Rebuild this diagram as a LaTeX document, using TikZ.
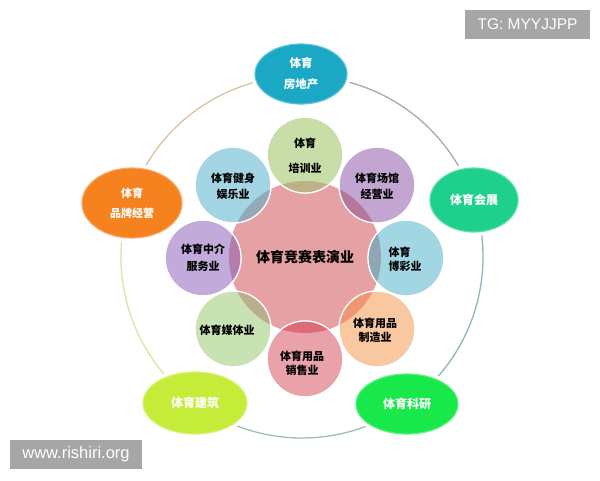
\documentclass[tikz,border=0pt]{standalone}
\usepackage{fontspec}
\setmainfont{Liberation Sans}
\newfontfamily\cjk{Noto Sans CJK SC}
\usetikzlibrary{shapes.geometric}
\definecolor{cPink}{HTML}{E6A1A4}
\definecolor{cGreenA}{HTML}{C9DDA9}
\definecolor{cPurpleA}{HTML}{C3A5D2}
\definecolor{cBlueA}{HTML}{A3D6E3}
\definecolor{cPeach}{HTML}{F9C7A0}
\definecolor{cPinkB}{HTML}{E9A2AA}
\definecolor{cGreenB}{HTML}{C9E2B3}
\definecolor{cPurpleB}{HTML}{C2ABDA}
\definecolor{cBlueB}{HTML}{A3D5E5}
\definecolor{lGreenA}{HTML}{C0B088}
\definecolor{lPurpleA}{HTML}{B5779B}
\definecolor{lBlueA}{HTML}{90A6B5}
\definecolor{lPeach}{HTML}{EE9676}
\definecolor{lPinkB}{HTML}{DE6B7C}
\definecolor{lGreenB}{HTML}{B9AE90}
\definecolor{lPurpleB}{HTML}{B67CAB}
\definecolor{lBlueB}{HTML}{92AABA}
\definecolor{oTeal}{HTML}{1AA8C4}
\definecolor{oOrange}{HTML}{F5821F}
\definecolor{oMint}{HTML}{1ED08C}
\definecolor{oLime}{HTML}{C6EC3A}
\definecolor{oGreen}{HTML}{18E84A}
\definecolor{arcA}{HTML}{D6C59E}
\definecolor{arcB}{HTML}{DCE3A4}
\definecolor{arcC}{HTML}{9FBFAE}
\definecolor{arcD}{HTML}{8EB5BB}
\definecolor{arcE}{HTML}{A2AAB0}
\definecolor{wmGray}{HTML}{A6A6A6}
\begin{document}
\begin{tikzpicture}[x=1pt,y=-1pt,
  ringarc/.style={line width=1.3pt},
  outerell/.style={ellipse, inner sep=0pt, text=white, align=center,
    font=\cjk\bfseries\fontsize{11.5}{21}\selectfont, line width=1.2pt},
  petal/.style={circle, minimum size=76pt, inner sep=0pt, draw=white, line width=1.2pt},
  ptxt/.style={align=center, inner sep=0pt, text=black, font=\cjk\bfseries\fontsize{11}{15.5}\selectfont},
  wm/.style={fill=wmGray, text=white, inner sep=0pt, font=\fontsize{15.5}{18}\selectfont}]
\useasboundingbox (0,0) rectangle (600,480);
\fill[white] (0,0) rectangle (600,480);
\coordinate (O) at (302,257);
% outer ring arcs
\draw[ringarc, arcA] (O) ++(-90:181) arc[start angle=-90, end angle=-162, radius=181];
\draw[ringarc, arcB] (O) ++(-162:181) arc[start angle=-162, end angle=-234, radius=181];
\draw[ringarc, arcC] (O) ++(-234:181) arc[start angle=-234, end angle=-306, radius=181];
\draw[ringarc, arcD] (O) ++(-306:181) arc[start angle=-306, end angle=-378, radius=181];
\draw[ringarc, arcE] (O) ++(-18:181) arc[start angle=-18, end angle=-90, radius=181];
% white gaps round the outer ellipses
\foreach \cx/\cy/\w/\h in {301/74/96/64, 132/203/104/74, 474/200/92/68, 195/403/108/66, 407/404/106/64}{
  \fill[white] (\cx,\cy) ellipse[x radius=\w/2+2, y radius=\h/2+2];
}
% outer ellipses
\node[outerell, fill=oTeal, draw=oTeal!70!white, minimum width=92pt, minimum height=60pt] (re) at (301,74) {体育\\房地产};
\node[outerell, fill=oOrange, draw=oOrange!70!white, minimum width=100pt, minimum height=70pt, font=\cjk\bfseries\fontsize{11}{20}\selectfont] (brand) at (132,203) {体育\\品牌经营};
\node[outerell, fill=oMint, draw=oMint!70!white, minimum width=88pt, minimum height=64pt, font=\cjk\bfseries\fontsize{12}{14}\selectfont] (expo) at (474,200) {体育会展};
\node[outerell, fill=oLime, draw=oLime!70!white, minimum width=104pt, minimum height=62pt, font=\cjk\bfseries\fontsize{12}{14}\selectfont] (arch) at (195,403) {体育建筑};
\node[outerell, fill=oGreen, draw=oGreen!70!white, minimum width=102pt, minimum height=60pt, font=\cjk\bfseries\fontsize{12}{14}\selectfont] (sci) at (407,404) {体育科研};
% central circle
\node[circle, fill=cPink, minimum size=152pt, inner sep=0pt] (ctr) at (305,257) {};
% petals
\node[petal, fill=cGreenA] (p1) at (305,155) {};
\node[petal, fill=cPurpleA] (p2) at (377,185) {};
\node[petal, fill=cBlueA] (p3) at (406,258) {};
\node[petal, fill=cPeach] (p4) at (377,329) {};
\node[petal, fill=cPinkB] (p5) at (305,359) {};
\node[petal, fill=cGreenB] (p6) at (233,329) {};
\node[petal, fill=cPurpleB] (p7) at (203,258) {};
\node[petal, fill=cBlueB] (p8) at (233,185) {};
% overlaps
\foreach \p/\c in {p1/lGreenA, p2/lPurpleA, p3/lBlueA, p4/lPeach, p5/lPinkB, p6/lGreenB, p7/lPurpleB, p8/lBlueB}{
  \begin{scope}
    \clip (\p.center) circle (38);
    \fill[\c] (ctr.center) circle (76);
  \end{scope}
  \draw[white, line width=1.2pt] (\p.center) circle (38);
}
% texts
\node[ptxt, font=\cjk\bfseries\fontsize{14}{16}\selectfont] (tc) at (ctr) {体育竞赛表演业};
\node[ptxt, font=\cjk\bfseries\fontsize{11}{25}\selectfont] (t1) at (305,156) {体育\\培训业};
\node[ptxt, font=\cjk\bfseries\fontsize{11}{16}\selectfont] (t2) at (377,186) {体育场馆\\经营业};
\node[ptxt, align=left, font=\cjk\bfseries\fontsize{11}{14.5}\selectfont] (t3) at (405,259) {体育\\博彩业};
\node[ptxt, font=\cjk\bfseries\fontsize{11}{14.5}\selectfont] (t4) at (375,330) {体育用品\\制造业};
\node[ptxt, font=\cjk\bfseries\fontsize{11}{13.5}\selectfont] (t5) at (302,363) {体育用品\\销售业};
\node[ptxt] (t6) at (227,330) {体育媒体业};
\node[ptxt, font=\cjk\bfseries\fontsize{11}{17}\selectfont] (t7) at (203,258) {体育中介\\服务业};
\node[ptxt, font=\cjk\bfseries\fontsize{11}{16}\selectfont] (t8) at (233,186) {体育健身\\娱乐业};
% watermarks
\node[wm, minimum width=125pt, minimum height=29pt] (tg) at (527.5,24.5) {TG: MYYJJPP};
\node[wm, minimum width=132pt, minimum height=29pt, font=\fontsize{16.5}{18}\selectfont] (www) at (76,454.5) {www.rishiri.org};
\end{tikzpicture}
\end{document}
